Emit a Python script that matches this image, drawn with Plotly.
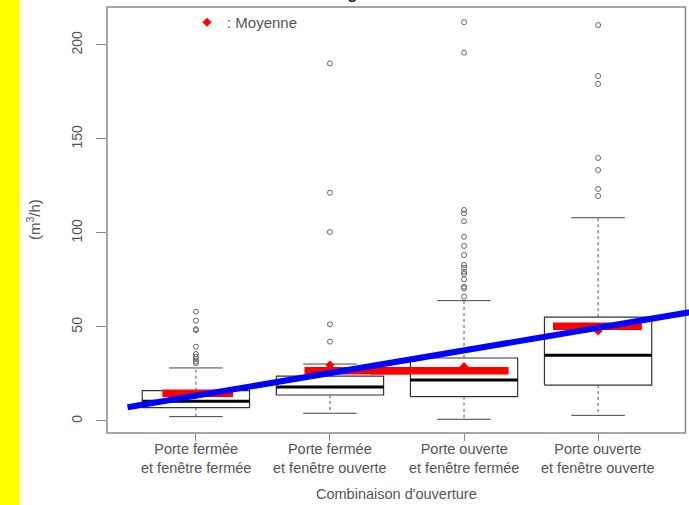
import plotly.graph_objects as go

# ---------------- data ----------------
categories = ["Porte fermée<br>et fenêtre fermée", "Porte fermée<br>et fenêtre ouverte",
              "Porte ouverte<br>et fenêtre fermée", "Porte ouverte<br>et fenêtre ouverte"]
q1 = [7.1, 13.8, 12.9, 19.1]
median = [10.5, 18.1, 21.8, 34.9]
q3 = [16.1, 23.9, 33.5, 55.2]
whisker_low = [2.3, 4.1, 0.9, 3.0]
whisker_high = [28.2, 30.3, 64.0, 108.1]
means = [14.0, 29.8, 28.9, 47.9]
outliers = [
    [58.1, 53.4, 48.8, 48.3, 39.5, 35.6, 34.2, 33.0, 31.6, 30.8],
    [190.2, 121.4, 100.5, 51.4, 42.2],
    [212.1, 195.9, 112.2, 110.5, 106.2, 98.0, 93.1, 88.3, 83.0, 81.5, 79.4, 78.2, 75.4, 71.4, 70.6, 66.1],
    [210.6, 183.5, 179.3, 139.9, 133.5, 123.4, 119.7],
]
# hand-drawn red highlight of the means (value, start, end in category units)
highlight_value = [14.8, 26.7, 26.7, 50.4]
highlight_from = [-0.25, 0.81, 1.30, 2.664]
highlight_to = [0.277, 1.60, 2.332, 3.327]
# hand-drawn blue trend line
trend_x = [-0.51, 3.68]
trend_y = [7.3, 57.8]
y_ticks = [0, 50, 100, 150, 200]
title_text = "47 logements observés"

FONT = "Liberation Sans, Arial, sans-serif"
TXT = "#555555"

fig = go.Figure()
BW, CW = 0.4, 0.2
for i in range(len(categories)):
    fig.add_trace(go.Scatter(x=[i - BW, i + BW, i + BW, i - BW, i - BW],
                             y=[q1[i], q1[i], q3[i], q3[i], q1[i]], mode="lines",
                             line=dict(color="#333333", width=1.2), showlegend=False, hoverinfo="skip"))
    fig.add_trace(go.Scatter(x=[i, i, None, i, i], y=[q3[i], whisker_high[i], None, q1[i], whisker_low[i]],
                             mode="lines", line=dict(color="#555555", width=1, dash="3px,3px"),
                             showlegend=False, hoverinfo="skip"))
    fig.add_trace(go.Scatter(x=[i - CW, i + CW, None, i - CW, i + CW],
                             y=[whisker_high[i], whisker_high[i], None, whisker_low[i], whisker_low[i]],
                             mode="lines", line=dict(color="#444444", width=1), showlegend=False, hoverinfo="skip"))
    fig.add_trace(go.Scatter(x=[i - BW, i + BW], y=[median[i], median[i]], mode="lines",
                             line=dict(color="#000000", width=3), showlegend=False, hoverinfo="skip"))
    fig.add_trace(go.Scatter(x=[i] * len(outliers[i]), y=outliers[i], mode="markers",
                             marker=dict(symbol="circle-open", size=5, color="#666666", line=dict(width=1)),
                             showlegend=False, hoverinfo="skip"))

fig.add_trace(go.Scatter(x=list(range(len(categories))), y=means, mode="markers", name=": Moyenne",
                         marker=dict(symbol="diamond", size=7, color="#ff0000"), showlegend=True))

for i in range(len(categories)):
    fig.add_trace(go.Scatter(x=[highlight_from[i], highlight_to[i]], y=[highlight_value[i]] * 2,
                             mode="lines", line=dict(color="#ff0000", width=7.5),
                             showlegend=False, hoverinfo="skip"))

fig.add_trace(go.Scatter(x=trend_x, y=trend_y, mode="lines", line=dict(color="#0000ff", width=6),
                         showlegend=False, hoverinfo="skip"))

L, T, B, R = 107, 7, 72, 0
W, H = 689, 505
pw, ph = W - L - R, H - T - B

def py(pix):
    """paper y for a pixel row"""
    return ((H - B) - pix) / ph

def px(pix):
    return (pix - L) / pw

annotations = []
for i, cat in enumerate(categories):
    annotations.append(dict(text=cat, xref="x", yref="paper", x=i, y=py(458),
                            xanchor="center", yanchor="middle", showarrow=False,
                            font=dict(size=14.5, color=TXT)))
annotations += [
    dict(text="Combinaison d'ouverture", xref="paper", yref="paper", x=px(396), y=py(494),
         xanchor="center", yanchor="middle", showarrow=False, font=dict(size=14.5, color=TXT)),
    dict(text="(m<sup>3</sup>/h)", xref="paper", yref="paper", x=px(33), y=py(220),
         xanchor="center", yanchor="middle", textangle=-90, showarrow=False,
         font=dict(size=15, color=TXT)),
    dict(text="<b>" + title_text + "</b>", xref="paper", yref="paper", x=px(399), y=py(-6),
         xanchor="center", yanchor="middle", showarrow=False, font=dict(size=16, color="#222222")),
]

fig.update_layout(
    width=W, height=H, margin=dict(l=L, r=R, t=T, b=B),
    paper_bgcolor="white", plot_bgcolor="white",
    font=dict(family=FONT, size=14, color=TXT),
    legend=dict(x=px(187), y=py(6), xanchor="left", yanchor="top",
                bgcolor="rgba(0,0,0,0)", font=dict(size=15, color=TXT), itemwidth=30),
    xaxis=dict(range=[-0.663, -0.663 + pw / 134.07], tickmode="array",
               tickvals=list(range(len(categories))), showticklabels=False,
               ticks="outside", ticklen=7, tickcolor="#888888", showline=False, zeroline=False,
               showgrid=False),
    yaxis=dict(range=[-6.4, 220.2], tickmode="array", tickvals=y_ticks,
               ticks="outside", ticklen=10, tickcolor="#888888", tickangle=-90, ticklabelstandoff=8,
               showline=False, zeroline=False, showgrid=False, tickfont=dict(size=14, color=TXT)),
    shapes=[
        dict(type="rect", xref="paper", yref="paper", x0=0, x1=px(685.5), y0=0, y1=1,
             line=dict(color="#888888", width=1.5), layer="below"),
        dict(type="rect", xref="paper", yref="paper", x0=px(0), x1=px(20), y0=-0.3, y1=1.1,
             fillcolor="#ffff00", line=dict(width=0), layer="above"),
    ],
    annotations=annotations,
)

fig.write_html("out.html", config={"displayModeBar": False},
               post_script="document.body.style.margin='0';document.body.style.overflow='hidden';")
